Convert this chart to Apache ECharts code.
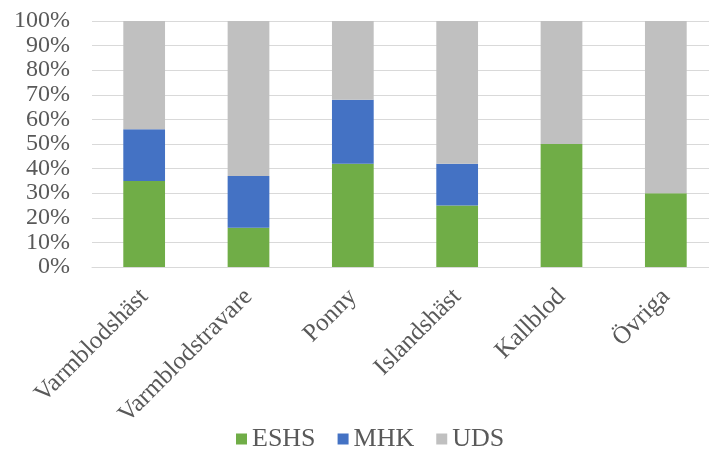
<!DOCTYPE html>
<html>
<head>
<meta charset="utf-8">
<script src="https://cdn.jsdelivr.net/npm/echarts@6/dist/echarts.min.js"></script>
<style>
  html, body { margin: 0; padding: 0; background: #fff; }
  #chart { width: 709px; height: 452px; }
</style>
</head>
<body>
<div id="chart"></div>
<script>
const categories = ['Varmblodshäst', 'Varmblodstravare', 'Ponny', 'Islandshäst', 'Kallblod', 'Övriga']
const eshs = [35, 16, 42, 25, 50, 30]
const mhk = [21, 21, 26, 17, 0, 0]
const uds = [44, 63, 32, 58, 50, 70]

const font = 'Liberation Serif, Times New Roman, serif'
const textColor = '#595959'

const chart = echarts.init(document.getElementById('chart'))

function barSeries(name, data, color) {
  return {
    name,
    type: 'bar',
    stack: 'total',
    data,
    barWidth: '40%',
    itemStyle: { color },
  }
}

chart.setOption({
  animation: false,
  grid: { left: 92, top: 21, width: 626, height: 246, outerBoundsMode: 'none' },
  legend: {
    data: ['ESHS', 'MHK', 'UDS'],
    left: 236,
    top: 426,
    padding: 0,
    icon: 'rect',
    itemWidth: 11,
    itemHeight: 11,
    itemGap: 22,
    textStyle: { fontFamily: font, fontSize: 26, color: textColor },
  },
  xAxis: {
    type: 'category',
    data: categories,
    axisTick: { show: false },
    axisLine: { show: true, lineStyle: { color: '#d9d9d9', width: 1 } },
    axisLabel: {
      rotate: 45,
      interval: 0,
      margin: 26,
      fontFamily: font,
      fontSize: 25,
      color: textColor,
    },
  },
  yAxis: {
    type: 'value',
    min: 0,
    max: 100,
    interval: 10,
    axisLine: { show: false },
    axisTick: { show: false },
    splitLine: { lineStyle: { color: '#d9d9d9', width: 1 } },
    axisLabel: {
      formatter: '{value}%',
      margin: 22,
      showMinLabel: true,
      showMaxLabel: true,
      hideOverlap: false,
      fontFamily: font,
      fontSize: 24,
      color: textColor,
    },
  },
  series: [
    barSeries('ESHS', eshs, '#70ad47'),
    barSeries('MHK', mhk, '#4472c4'),
    barSeries('UDS', uds, '#c0c0c0'),
  ],
})
</script>
</body>
</html>
